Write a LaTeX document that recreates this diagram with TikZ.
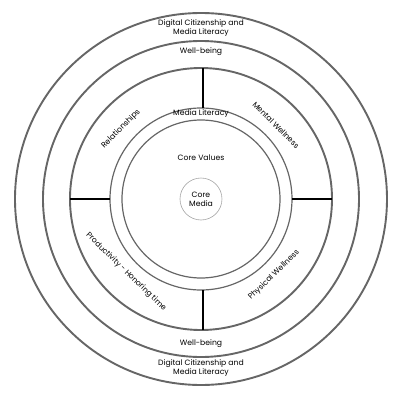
\documentclass[tikz,border=0pt]{standalone}
\usepackage{fontspec}
\setmainfont{Poppins}
\begin{document}
\begin{tikzpicture}[x=1pt,y=1pt,
  ring/.style={draw=black!60, line width=1.9pt},
  thinring/.style={draw=black!60, line width=1.2pt},
  corering/.style={draw=black!35, line width=0.6pt},
  divider/.style={draw=black, line width=1.8pt},
  lbl/.style={font=\fontsize{7.7}{7.2}\selectfont, align=center, inner sep=0pt}]
\useasboundingbox[fill=white] (-201,-201) rectangle (199,199);
\coordinate (c) at (0,0);
\draw[ring] (c) circle (186);
\draw[ring] (c) circle (158);
\draw[ring] (c) circle (131);
\draw[thinring] (c) circle (91);
\draw[thinring] (c) circle (79);
\node[corering, circle, minimum size=42pt, inner sep=0pt] (core) at (c) {};
% dividers
\coordinate (t1) at (2,131); \coordinate (t2) at (2,91);
\coordinate (b1) at (2,-131); \coordinate (b2) at (2,-91);
\coordinate (l1) at (-131,0); \coordinate (l2) at (-91,0);
\coordinate (r1) at (131,0); \coordinate (r2) at (91,0);
\draw[divider] (t1) -- (t2);
\draw[divider] (b1) -- (b2);
\draw[divider] (l1) -- (l2);
\draw[divider] (r1) -- (r2);
% labels
\node[lbl] (dctop) at (0,171) {Digital Citizenship and\\Media Literacy};
\node[lbl] (dcbot) at (0,-169) {Digital Citizenship and\\Media Literacy};
\node[lbl] (wbtop) at (0,147) {Well-being};
\node[lbl] (wbbot) at (0,-145) {Well-being};
\node[lbl] (ml) at (0,85) {Media Literacy};
\node[lbl] (cv) at (0,41) {Core Values};
\node[lbl, font=\fontsize{7.7}{9}\selectfont] (cm) at (c) {Core\\Media};
\node[lbl, rotate=45] (rel) at (-80,70) {Relationships};
\node[lbl, rotate=-45] (mw) at (75,74) {Mental Wellness};
\node[lbl, rotate=-44] (prod) at (-75,-73) {Productivity - Honoring time};
\node[lbl, rotate=44] (pw) at (73,-76) {Physical Wellness};
\end{tikzpicture}
\end{document}
